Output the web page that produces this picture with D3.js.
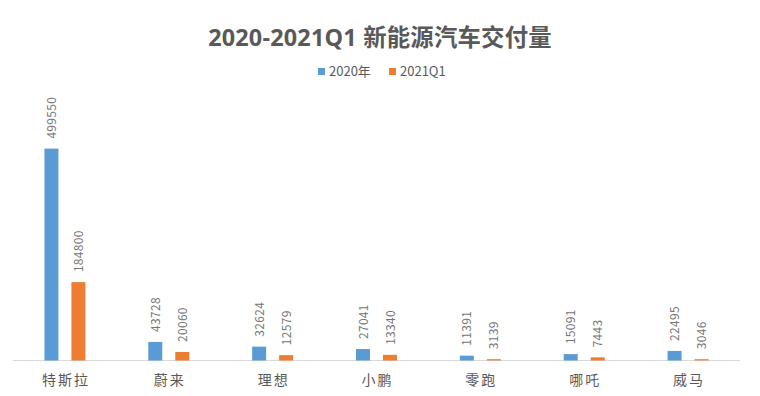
<!DOCTYPE html>
<html><head><meta charset="utf-8">
<script src="https://cdn.jsdelivr.net/npm/d3@7"></script>
<style>body{margin:0;background:#fff}svg{display:block}</style>
</head><body><svg id="c" width="760" height="396"></svg>
<script>
const categories = ["特斯拉","蔚来","理想","小鹏","零跑","哪吒","威马"];
const seriesNames = ["2020年","2021Q1"];
const values2020 = [499550,43728,32624,27041,11391,15091,22495];
const values2021Q1 = [184800,20060,12579,13340,3139,7443,3046];
const colors = ["#5B9BD5","#ED7D31"];
const title = "2020-2021Q1 新能源汽车交付量";

const svg = d3.select("#c");
const font = "'Open Sans','Noto Sans CJK SC',sans-serif";
const cjk = "'Noto Sans CJK SC',sans-serif";

svg.append("text").attr("x",380).attr("y",46).attr("text-anchor","middle")
  .attr("font-family",font).attr("font-weight","bold").attr("font-size",23.4)
  .attr("letter-spacing",0.2).attr("fill","#595959").text(title);

// legend
const legX = [318,389];
seriesNames.forEach((n,i)=>{
  svg.append("rect").attr("x",legX[i]).attr("y",68).attr("width",7).attr("height",7).attr("fill",colors[i]);
  svg.append("text").attr("x",legX[i]+11).attr("y",76).attr("font-family",cjk).attr("font-size",13)
    .attr("fill","#595959").text(n);
});

const x0 = d3.scaleBand().domain(categories).range([13,740]).paddingInner(0).paddingOuter(0);
const y = d3.scaleLinear().domain([0,600000]).range([360.5,106]);
const offsets = [-13.5,13.5];
const bw = 14;

svg.append("line").attr("x1",13).attr("x2",740).attr("y1",360.5).attr("y2",360.5)
  .attr("stroke","#d9d9d9").attr("stroke-width",1);

[values2020, values2021Q1].forEach((vals,s)=>{
  const g = svg.append("g");
  g.selectAll("rect").data(vals).join("rect")
    .attr("x",(d,i)=>x0(categories[i])+x0.bandwidth()/2+offsets[s]-bw/2)
    .attr("y",d=>y(d)).attr("width",bw).attr("height",d=>y(0)-y(d)).attr("fill",colors[s]);
  g.selectAll("text").data(vals).join("text")
    .attr("transform",(d,i)=>`translate(${x0(categories[i])+x0.bandwidth()/2+offsets[s]+4.5},${y(d)-10}) rotate(-90)`)
    .attr("font-family",cjk).attr("font-size",12).attr("letter-spacing",0.3).attr("fill","#757575")
    .text(d=>d);
});

const xAxis = svg.append("g").attr("transform","translate(0,360.5)")
  .call(d3.axisBottom(x0).tickSize(0).tickPadding(0));
xAxis.select(".domain").remove();
xAxis.selectAll("text").attr("font-family",cjk).attr("font-size",14).attr("fill","#595959")
  .attr("letter-spacing",2).attr("dy",null).attr("y",24).attr("dx",1);
</script></body></html>
